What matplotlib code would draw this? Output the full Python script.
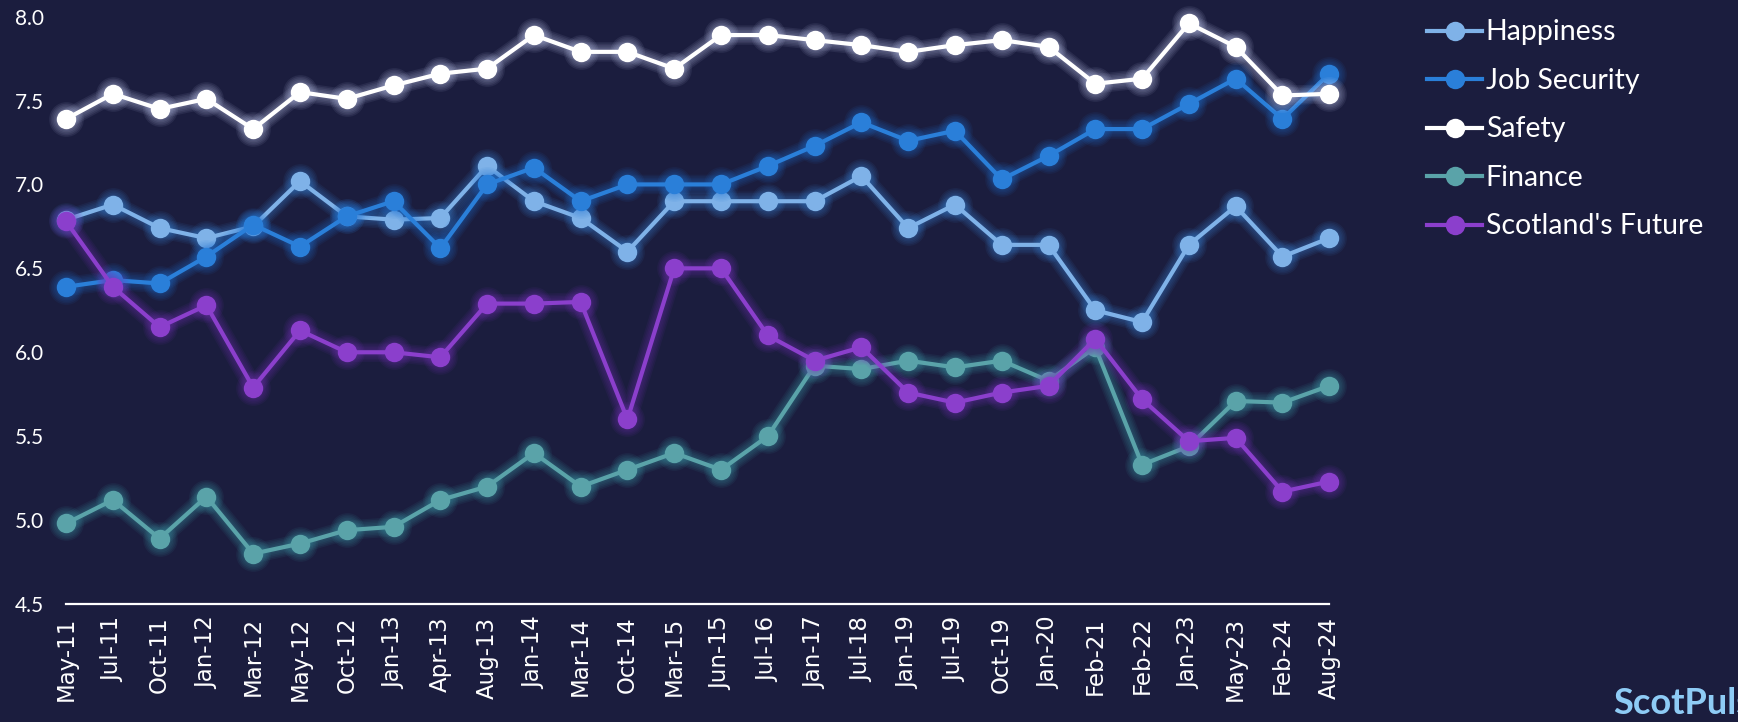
import matplotlib
matplotlib.use('Agg')
import matplotlib.pyplot as plt
import numpy as np

#------------------------------------------------------------------------------
# DATA

dates = ['May-11', 'Jul-11', 'Oct-11', 'Jan-12', 'Mar-12', 'May-12', 'Oct-12',
         'Jan-13', 'Apr-13', 'Aug-13', 'Jan-14', 'Mar-14', 'Oct-14', 'Mar-15',
         'Jun-15', 'Jul-16', 'Jan-17', 'Jul-18', 'Jan-19', 'Jul-19', 'Oct-19',
         'Jan-20', 'Feb-21', 'Feb-22', 'Jan-23', 'May-23', 'Feb-24', 'Aug-24']

happiness = [6.79, 6.88, 6.74, 6.68, 6.75, 7.02, 6.81, 6.79, 6.80, 7.11, 6.90, 6.80, 6.60, 6.90,
             6.90, 6.90, 6.90, 7.05, 6.74, 6.88, 6.64, 6.64, 6.25, 6.18, 6.64, 6.87, 6.57, 6.68]
job_security = [6.39, 6.43, 6.41, 6.57, 6.76, 6.63, 6.81, 6.90, 6.62, 7.00, 7.10, 6.90, 7.00, 7.00,
                7.00, 7.11, 7.23, 7.37, 7.26, 7.32, 7.03, 7.17, 7.33, 7.33, 7.48, 7.63, 7.39, 7.66]
safety = [7.39, 7.54, 7.45, 7.51, 7.33, 7.55, 7.51, 7.59, 7.66, 7.69, 7.89, 7.79, 7.79, 7.69,
          7.89, 7.89, 7.86, 7.83, 7.79, 7.83, 7.86, 7.82, 7.60, 7.63, 7.96, 7.82, 7.53, 7.54]
finance = [4.98, 5.12, 4.89, 5.14, 4.80, 4.86, 4.94, 4.96, 5.12, 5.20, 5.40, 5.20, 5.30, 5.40,
           5.30, 5.50, 5.92, 5.90, 5.95, 5.91, 5.95, 5.83, 6.03, 5.33, 5.44, 5.71, 5.70, 5.80]
scot_future = [6.78, 6.39, 6.15, 6.28, 5.79, 6.13, 6.00, 6.00, 5.97, 6.29, 6.29, 6.30, 5.60, 6.50,
               6.50, 6.10, 5.95, 6.03, 5.76, 5.70, 5.76, 5.80, 6.08, 5.72, 5.47, 5.49, 5.17, 5.23]

names = ['Happiness', 'Job Security', 'Safety', 'Finance', "Scotland's Future"]
colours = ['#7fb2e8', '#2a7fd9', '#ffffff', '#5aa3a9', '#8b3fcc']
glows = ['#3d8be0', '#1f74d6', '#cfd8ff', '#3fa3b0', '#7a35c0']
series = [happiness, job_security, safety, finance, scot_future]

yticks = [4.5, 5.0, 5.5, 6.0, 6.5, 7.0, 7.5, 8.0]

bg = '#1b1d3e'

#------------------------------------------------------------------------------
# PLOT

fig = plt.figure(figsize=(17.38, 7.22), dpi=100, facecolor=bg)
ax = fig.add_axes([0.038, 0.1634, 0.7268, 0.8136])
ax.set_facecolor(bg)

x = np.arange(len(dates))

handles = []
for vals, col, gcol, name in zip(series, colours, glows, names):
    # soft glow underneath
    for n in range(1, 6):
        ax.plot(x, vals, color=gcol, lw=3 + 2.2 * n, alpha=0.08,
                marker='o', ms=14 + 2.2 * n, mew=0, solid_capstyle='round',
                solid_joinstyle='round', clip_on=False)
    h, = ax.plot(x, vals, color=col, lw=3, marker='o', ms=14, mew=0,
                 label=name, clip_on=False)
    handles.append(h)

ax.set_xlim(0, len(dates) - 1)
ax.set_ylim(4.5, 8.0)
ax.set_xticks(x)
ax.set_xticklabels(dates, rotation=90, fontsize=16.5, color='white',
                   family='DejaVu Sans')
ax.set_yticks(yticks)
ax.set_yticklabels(['%.1f' % v for v in yticks], fontsize=15, color='white',
                   family='Lato')
ax.tick_params(axis='both', length=0)
ax.tick_params(axis='y', pad=16)
ax.tick_params(axis='x', pad=9)

for s in ['top', 'right', 'left']:
    ax.spines[s].set_visible(False)
ax.spines['bottom'].set_color('white')
ax.spines['bottom'].set_linewidth(1.6)

leg = fig.legend(handles=handles, loc='upper left',
                 bbox_to_anchor=(0.821, 0.973), frameon=False,
                 prop={'family': 'Lato', 'size': 20.5},
                 handlelength=1.95, handletextpad=0.12, labelspacing=0.79,
                 borderaxespad=0, borderpad=0)
for t in leg.get_texts():
    t.set_color('white')

# watermark, cut off at the right edge as in the reference
for n in range(1, 4):
    fig.text(0.928, 0.026, 'ScotPulse', fontsize=26, fontweight='bold',
             family='Lato', color='#8ecbf5', alpha=0.08, va='center')
fig.text(0.928, 0.026, 'ScotPulse', fontsize=26, fontweight='bold',
         family='Lato', color='#8ecbf5', va='center')

fig.savefig('out.png', dpi=100, facecolor=bg)
